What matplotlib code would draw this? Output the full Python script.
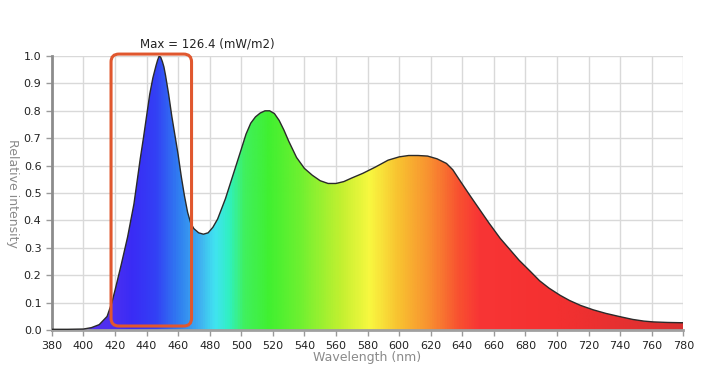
import numpy as np
import matplotlib
matplotlib.use("Agg")
import matplotlib.pyplot as plt
from matplotlib.colors import LinearSegmentedColormap
from matplotlib.patches import FancyBboxPatch, Polygon

# spectrum
wavelength = [380, 390, 400, 405, 410, 415, 418, 420, 424, 428, 432, 436, 438, 440,
              442, 444, 446, 447, 448, 449, 450, 451, 452, 454, 456, 458, 460, 462,
              464, 466, 468, 470, 473, 476, 479, 482, 485, 490, 495, 500, 503, 506,
              509, 512, 515, 518, 521, 524, 527, 530, 535, 540, 545, 550, 555, 560,
              565, 570, 577, 585, 593, 600, 606, 612, 618, 624, 630, 634, 638, 645,
              651, 657, 664, 670, 676, 683, 689, 695, 702, 708, 715, 723, 731, 740,
              748, 755, 761, 770, 779, 780]
intensity = [0.003, 0.003, 0.004, 0.009, 0.02, 0.05, 0.10, 0.145, 0.24, 0.34, 0.46,
             0.625, 0.70, 0.78, 0.86, 0.92, 0.965, 0.985, 1.0, 0.995, 0.98, 0.96,
             0.93, 0.86, 0.78, 0.71, 0.64, 0.56, 0.49, 0.43, 0.39, 0.37, 0.355,
             0.35, 0.355, 0.375, 0.405, 0.48, 0.57, 0.66, 0.715, 0.755, 0.778, 0.792,
             0.80, 0.80, 0.79, 0.765, 0.73, 0.69, 0.63, 0.59, 0.565, 0.545, 0.535,
             0.535, 0.542, 0.555, 0.572, 0.595, 0.62, 0.632, 0.637, 0.637, 0.635,
             0.625, 0.608, 0.585, 0.55, 0.49, 0.44, 0.39, 0.335, 0.295, 0.255, 0.215,
             0.18, 0.153, 0.127, 0.108, 0.09, 0.074, 0.061, 0.049, 0.039, 0.033,
             0.030, 0.028, 0.027, 0.027]

# colour stops of the fill (wavelength, colour)
color_nm = [380, 415, 430, 445, 460, 473, 483, 492, 501, 517, 536, 562, 581, 600,
            619, 638, 651, 700, 780]
color_hex = ["#5a2ee8", "#4f30f0", "#3a2cf5", "#3340f5", "#3080f0", "#40b0f0",
             "#40e4f0", "#30f0c0", "#40f060", "#40f030", "#6cf030", "#c0f030",
             "#f8f840", "#f8c030", "#f89030", "#f85030", "#f83535", "#f43030",
             "#d83030"]

x_ticks = list(range(380, 781, 20))
y_ticks = [round(0.1 * i, 1) for i in range(11)]

fig = plt.figure(figsize=(7.2, 3.66), dpi=100)
ax = fig.add_axes([0.072, 0.098, 0.877, 0.749])

xmin, xmax = 380, 780
stops = [((n - xmin) / (xmax - xmin), c) for n, c in zip(color_nm, color_hex)]
cmap = LinearSegmentedColormap.from_list("spec", stops)
grad = np.linspace(0, 1, 800).reshape(1, -1)
img = ax.imshow(grad, cmap=cmap, aspect="auto", extent=[xmin, xmax, 0, 1.0],
                origin="lower", zorder=2)
verts = list(zip(wavelength, intensity)) + [(780, 0), (380, 0)]
poly = Polygon(verts, closed=True, facecolor="none", edgecolor="none",
               transform=ax.transData)
ax.add_patch(poly)
img.set_clip_path(poly)
ax.plot(wavelength, intensity, color="#2a2a2a", lw=1.0, zorder=3)

ax.set_xlim(xmin, xmax)
ax.set_ylim(0, 1.0)
ax.set_xticks(x_ticks)
ax.set_yticks(y_ticks)
ax.set_yticklabels([f"{v:.1f}" for v in y_ticks])
ax.grid(True, color="#d9d9d9", lw=1.0, zorder=0)
ax.set_axisbelow(True)
ax.tick_params(axis="both", labelsize=8, colors="#9a9a9a", labelcolor="#222222",
               length=4, width=1)
for s in ["top", "right"]:
    ax.spines[s].set_visible(False)
ax.spines["left"].set_color("#8c8c8c")
ax.spines["left"].set_linewidth(2)
ax.spines["bottom"].set_color("#a0a0a0")
ax.spines["bottom"].set_linewidth(2)

ax.set_xlabel("Wavelength (nm)", color="#8a8a8a", fontsize=9, labelpad=0)
ax.set_ylabel("Relative intensity", color="#8a8a8a", fontsize=9, rotation=270,
              va="center", ha="center")
ax.yaxis.set_label_coords(-0.062, 0.5)
ax.set_title("Max = 126.4 (mW/m2)", fontsize=8.5, color="#222222",
             x=0.247, pad=6)

box = FancyBboxPatch((417.5, 0.015), 51, 0.992,
                     boxstyle="round,pad=0,rounding_size=5",
                     mutation_aspect=1.5725 / 274, fill=False,
                     edgecolor="#e0572e", lw=2.2, zorder=4, clip_on=False)
ax.add_patch(box)

fig.savefig("out.png", dpi=100)
